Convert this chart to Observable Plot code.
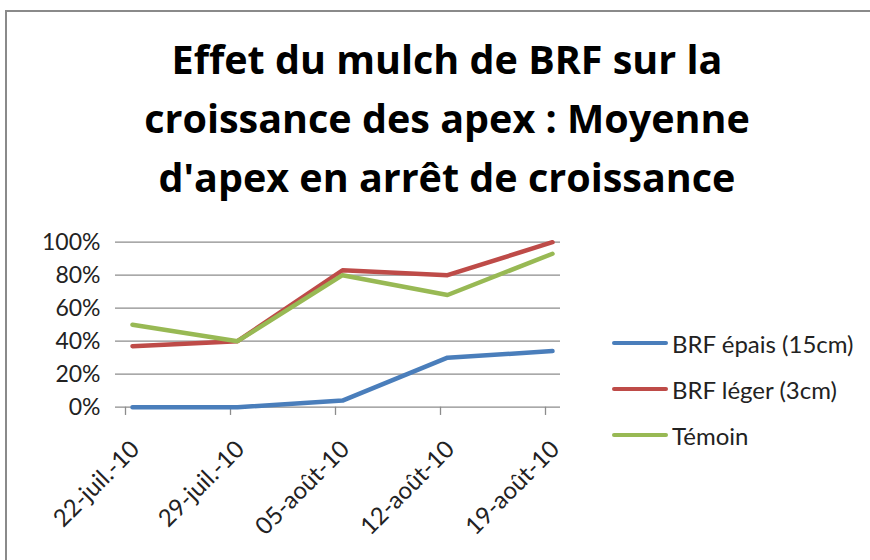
<!DOCTYPE html>
<html>
<head>
<meta charset="utf-8">
<script src="https://cdn.jsdelivr.net/npm/d3@7"></script>
<script src="https://cdn.jsdelivr.net/npm/@observablehq/plot@0.6"></script>
<style>
  body { margin: 0; background: #fff; }
  #wrap { position: relative; width: 870px; height: 560px; overflow: hidden; font-family: Lato, "Open Sans", sans-serif; background: #fff; }
  #frame { position: absolute; left: 5px; top: 10px; width: 920px; height: 620px; border: 2px solid #8a8a8a; box-sizing: border-box; }
  #title { position: absolute; left: 0; width: 894px; top: 30px; text-align: center; font-family: "Open Sans", Lato, sans-serif; font-weight: bold; font-size: 39.5px; line-height: 59px; color: #000; margin: 0; }
  #chart { position: absolute; left: 0; top: 0; }
  .leg { position: absolute; left: 612px; height: 30px; display: flex; align-items: center; font-size: 24px; color: #222; white-space: nowrap; }
  .leg span.sw { display: inline-block; width: 56px; height: 4px; border-radius: 2px; margin-right: 4px; }
</style>
</head>
<body>
<div id="wrap">
  <div id="frame"></div>
  <div id="chart"></div>
  <div id="title">Effet du mulch de BRF sur la<br>croissance des apex : Moyenne<br>d'apex en arrêt de croissance</div>
  <div id="legend"></div>
</div>
<script>
// Data
const dates = ["22-juil.-10", "29-juil.-10", "05-août-10", "12-août-10", "19-août-10"];
const seriesNames = ["BRF épais (15cm)", "BRF léger (3cm)", "Témoin"];
const seriesColors = ["#4A7EBB", "#BE4B48", "#98B954"];
const brfEpais = [0.00, 0.00, 0.04, 0.30, 0.34];
const brfLeger = [0.37, 0.40, 0.83, 0.80, 1.00];
const temoin  = [0.50, 0.40, 0.80, 0.68, 0.93];
const yTicks = [0, 0.2, 0.4, 0.6, 0.8, 1.0];

const allSeries = [brfEpais, brfLeger, temoin];
const rows = [];
allSeries.forEach((vals, i) => vals.forEach((v, j) => rows.push({serie: seriesNames[i], date: dates[j], value: v})));

const chart = Plot.plot({
  width: 870,
  height: 560,
  marginLeft: 115,
  marginRight: 310,
  marginTop: 241.7,
  marginBottom: 153.3,
  style: { background: "transparent", color: "#222", fontFamily: "Lato, 'Open Sans', sans-serif", overflow: "visible" },
  x: { type: "point", domain: dates, range: [130, 553], padding: 0, axis: null },
  y: { domain: [0, 1], axis: null },
  color: { domain: seriesNames, range: seriesColors },
  marks: [
    Plot.ruleY(yTicks, { stroke: "#8c8c8c", strokeWidth: 1.3 }),
    Plot.ruleX(dates, { x: d => d, y1: 0, y2: -0.05, dx: -7, stroke: "#8c8c8c", strokeWidth: 1.3 }),
    Plot.text(yTicks, { x: () => dates[0], y: d => d, text: d => d3.format(".0%")(d), textAnchor: "end", dx: -32, fontSize: 23, fill: "#222" }),
    Plot.text(dates, { x: d => d, y: 0, text: d => d, rotate: -45, textAnchor: "end", dx: 3, dy: 38, fontSize: 24, fill: "#222" }),
    Plot.line(rows, { x: "date", y: "value", z: "serie", stroke: "serie", strokeWidth: 4.5, strokeLinejoin: "round", strokeLinecap: "round" })
  ]
});
document.getElementById("chart").appendChild(chart);

const legend = document.getElementById("legend");
const legY = [345, 391, 437];
seriesNames.forEach((name, i) => {
  const item = document.createElement("div");
  item.className = "leg";
  item.style.top = (legY[i] - 17) + "px";
  const sw = document.createElement("span");
  sw.className = "sw";
  sw.style.background = seriesColors[i];
  item.appendChild(sw);
  item.appendChild(document.createTextNode(name));
  legend.appendChild(item);
});
</script>
</body>
</html>
